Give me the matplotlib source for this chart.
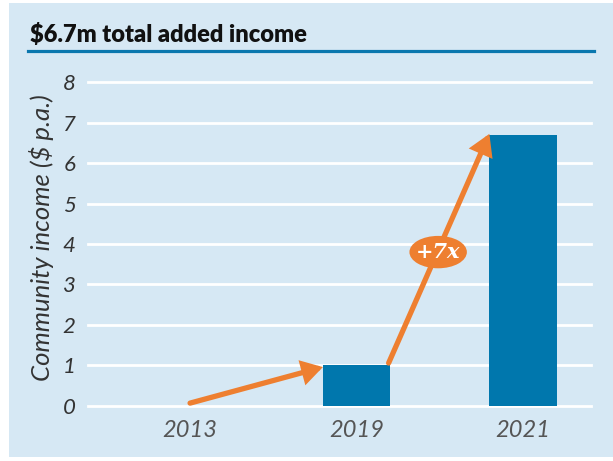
import matplotlib
matplotlib.use("Agg")
import matplotlib.pyplot as plt
from matplotlib.patches import Rectangle, Ellipse
from matplotlib.lines import Line2D

# Data
years = ["2013", "2019", "2021"]
income = [0.0, 1.0, 6.7]          # community income, $m p.a.
y_ticks = [0, 1, 2, 3, 4, 5, 6, 7, 8]
title = "$6.7m total added income"
y_label = "Community income ($ p.a.)"
growth_label = "+7x"

BG = "#d6e8f4"
BAR = "#0077ad"
ORANGE = "#ee7f30"
TXT = "#333333"

W, H = 613, 461
fig = plt.figure(figsize=(W / 100, H / 100), dpi=100)
fig.patch.set_facecolor("white")
fig.patches.append(Rectangle((9 / W, 4 / H), 1 - 9 / W, 1 - 7 / H,
                             transform=fig.transFigure, facecolor=BG,
                             edgecolor="none", zorder=-10))

# Title and rule under it
fig.text(30 / W, 1 - 42 / H, title, fontsize=17, fontweight="heavy",
         family="Lato", color="#111111", ha="left", va="baseline")
fig.lines.append(Line2D([28 / W, 594 / W], [1 - 51 / H, 1 - 51 / H],
                        transform=fig.transFigure, color="#0a77ae", lw=2.3))

ax = fig.add_axes([88 / W, 51 / H, 503 / W, 332 / H])
ax.set_facecolor("none")
for s in ax.spines.values():
    s.set_visible(False)

x = list(range(len(years)))
bw = 0.405
ax.bar(x, income, width=bw, color=BAR, zorder=3)

ax.set_xlim(-0.613, 2.408)
ax.set_ylim(-0.1, 8.1)
ax.set_yticks(y_ticks)
ax.set_yticklabels([str(t) for t in y_ticks], fontsize=16, style="italic",
                   family="Lato", color=TXT)
ax.set_xticks(x)
ax.set_xticklabels(years, fontsize=17, style="italic", family="Lato",
                   color="#555555")
ax.tick_params(axis="both", length=0)
ax.tick_params(axis="y", pad=9)
ax.tick_params(axis="x", pad=7)
ax.grid(axis="y", color="white", lw=2.0, zorder=1)
ax.set_axisbelow(True)
for gl in ax.yaxis.get_gridlines():
    gl.set_clip_on(False)

fig.text(42 / W, 1 - 238 / H, y_label, rotation=90, fontsize=18.5,
         style="italic", family="Lato", color=TXT, ha="center", va="center")

# Growth arrows
arrow_kw = dict(arrowstyle="-|>,head_length=1.0,head_width=0.6",
                color=ORANGE, lw=3.8, capstyle="round", joinstyle="miter",
                shrinkA=0, shrinkB=0)
ax.annotate("", xy=(1 - bw / 2, income[1] - 0.04), xytext=(0, income[0] + 0.07),
            arrowprops=arrow_kw, zorder=5)
ax.annotate("", xy=(2 - bw / 2, income[2] + 0.02),
            xytext=(1 + bw / 2 - 0.01, income[1] + 0.06),
            arrowprops=arrow_kw, zorder=5)

ax.add_patch(Ellipse((1.49, 3.80), 0.345, 0.80, facecolor=ORANGE,
                     edgecolor="none", zorder=6))
ax.text(1.49, 3.80, growth_label, color="white", fontsize=15,
        fontweight="bold", style="italic", family="DejaVu Serif",
        ha="center", va="center", zorder=7)

fig.savefig("out.png", dpi=100, facecolor=fig.get_facecolor())
